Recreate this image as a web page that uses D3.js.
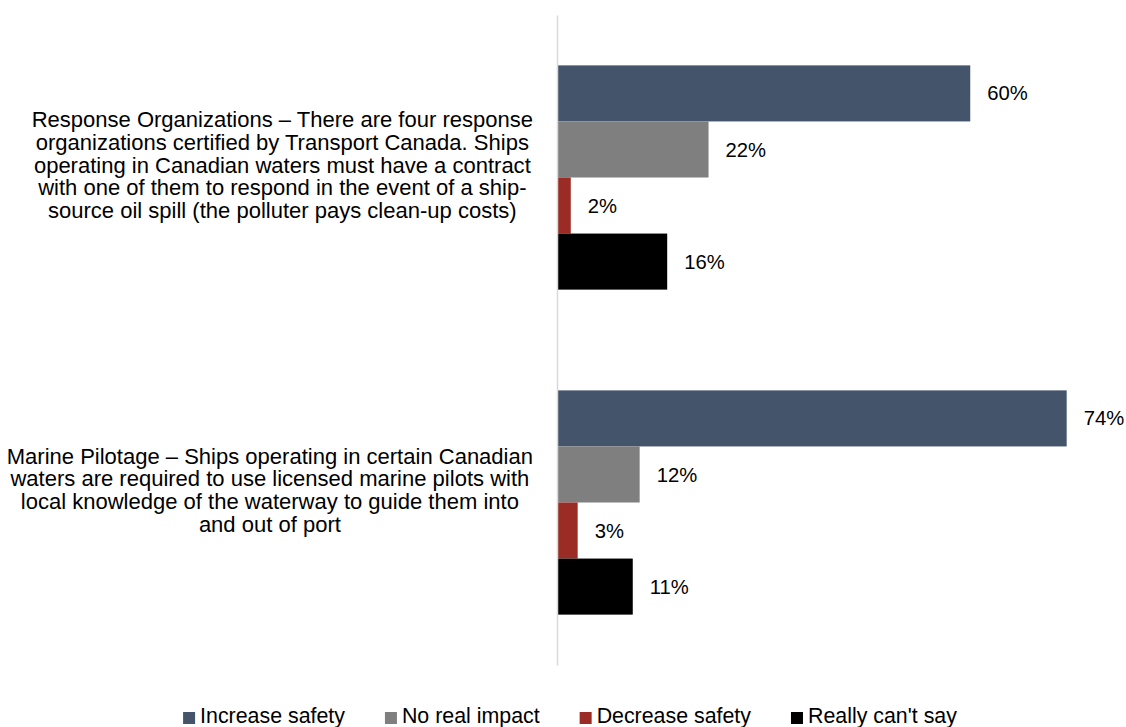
<!DOCTYPE html>
<html>
<head>
<meta charset="utf-8">
<script src="https://cdn.jsdelivr.net/npm/d3@7"></script>
<style>
  html, body { margin: 0; padding: 0; background: #fff; }
  svg { display: block; }
  text { font-family: "Liberation Sans", Arial, sans-serif; fill: #000; }
</style>
</head>
<body>
<svg id="chart" width="1126" height="727"></svg>
<script>
// ---- data ----
const categories = ["Response Organizations", "Marine Pilotage"];
const categoryLabelLines = [
  ["Response Organizations – There are four response",
   "organizations certified by Transport Canada. Ships",
   "operating in Canadian waters must have a contract",
   "with one of them to respond in the event of a ship-",
   "source oil spill (the polluter pays clean-up costs)"],
  ["Marine Pilotage – Ships operating in certain Canadian",
   "waters are required to use licensed marine pilots with",
   "local knowledge of the waterway to guide them into",
   "and out of port"]
];
const seriesNames = ["Increase safety", "No real impact", "Decrease safety", "Really can't say"];
const increaseSafety = [0.60, 0.74];
const noRealImpact   = [0.22, 0.12];
const decreaseSafety = [0.02, 0.03];
const reallyCantSay  = [0.16, 0.11];
const seriesColors = ["#44546A", "#7F7F7F", "#9B2B25", "#000000"];

const seriesValues = [increaseSafety, noRealImpact, decreaseSafety, reallyCantSay];

// ---- layout ----
const svg = d3.select("#chart");

// fit font size (Calibri substitute) to reference text widths
const probe = svg.append("text").attr("font-size", 100).text("operating in Canadian waters must have a contract");
const probeW = probe.node().getComputedTextLength();
probe.remove();
const fs = 100 * 497 / probeW;

const x = d3.scaleLinear().domain([0, 0.8]).range([557, 1108]);
const y = d3.scaleBand().domain(categories).range([15, 665]).paddingInner(0.31).paddingOuter(0.155);
const ySub = d3.scaleBand().domain(seriesNames).range([0, y.bandwidth()]).padding(0);

// bars
const rows = [];
categories.forEach((c, ci) => {
  seriesNames.forEach((s, si) => rows.push({cat: c, ser: s, si, v: seriesValues[si][ci]}));
});

const g = svg.append("g");
g.selectAll("rect.bar").data(rows).enter().append("rect")
  .attr("class", "bar")
  .attr("x", x(0))
  .attr("y", d => y(d.cat) + ySub(d.ser))
  .attr("width", d => x(d.v) - x(0))
  .attr("height", ySub.bandwidth())
  .attr("fill", d => seriesColors[d.si]);

// value labels
g.selectAll("text.val").data(rows).enter().append("text")
  .attr("class", "val")
  .attr("x", d => x(d.v) + 17)
  .attr("y", d => y(d.cat) + ySub(d.ser) + ySub.bandwidth() / 2)
  .attr("dy", "0.35em")
  .attr("font-size", fs * 0.92)
  .text(d => d3.format(".0%")(d.v));

// axis line (category axis)
const yAxis = d3.axisLeft(y).tickSize(0).tickFormat("");
const ax = svg.append("g").attr("transform", `translate(${x(0)},0)`).call(yAxis);
ax.select(".domain").attr("stroke", "#D9D9D9").attr("stroke-width", 1.5);

// category labels
const lineH = 22.7;
categories.forEach((c, ci) => {
  const lines = categoryLabelLines[ci];
  const t = svg.append("text").attr("font-size", fs).attr("text-anchor", "middle");
  const center = y(c) + y.bandwidth() / 2 - 12.5;
  const y0 = center - (lines.length - 1) * lineH / 2;
  const tspans = t.selectAll("tspan").data(lines).enter().append("tspan")
    .attr("y", (d, i) => y0 + i * lineH)
    .attr("dy", "0.35em")
    .text(d => d);
  let maxW = 0;
  tspans.each(function() { maxW = Math.max(maxW, this.getComputedTextLength()); });
  tspans.attr("x", 533 - maxW / 2);
});

// legend
const legend = svg.append("g");
const items = legend.selectAll("g").data(seriesNames).enter().append("g");
items.append("rect").attr("width", 12).attr("height", 12).attr("y", -11)
  .attr("fill", (d, i) => seriesColors[i]);
items.append("text").attr("x", 17).attr("font-size", fs * 0.97).text(d => d);
const gap = 40;
let cx = 0;
const pos = [];
items.each(function() {
  const tw = d3.select(this).select("text").node().getComputedTextLength();
  pos.push(cx);
  cx += 17 + tw + gap;
});
const totalW = cx - gap;
const lx0 = 570 - totalW / 2;
items.attr("transform", (d, i) => `translate(${lx0 + pos[i]},723)`);
</script>
</body>
</html>
